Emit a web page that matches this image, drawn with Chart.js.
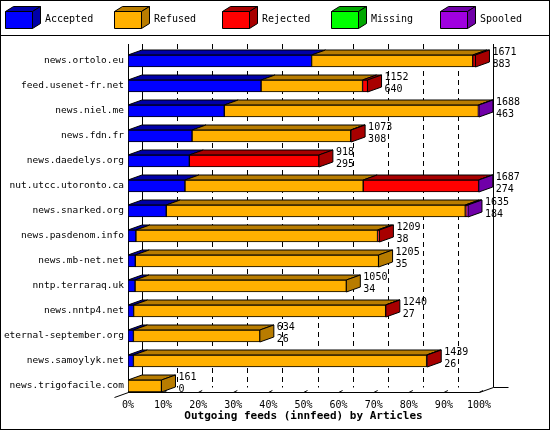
<!DOCTYPE html>
<html><head><meta charset="utf-8">
<script src="https://cdn.jsdelivr.net/npm/chart.js@4/dist/chart.umd.min.js"></script>
<style>html,body{margin:0;background:#fff}#wrap{width:550px;height:430px;position:relative}</style>
</head><body><div id="wrap"><canvas id="c" width="550" height="430"></canvas></div>
<script>
// innfeed outgoing feeds, articles per peer
const hosts = ['news.ortolo.eu','feed.usenet-fr.net','news.niel.me','news.fdn.fr','news.daedelys.org','nut.utcc.utoronto.ca','news.snarked.org','news.pasdenom.info','news.mb-net.net','nntp.terraraq.uk','news.nntp4.net','eternal-september.org','news.samoylyk.net','news.trigofacile.com'];
const accepted = [883, 640, 463, 308, 295, 274, 184, 38, 35, 34, 27, 26, 26, 0];
const refused  = [775, 488, 1222, 763, 0, 857, 1438, 1162, 1170, 1016, 1212, 608, 1410, 161];
const rejected = [13, 24, 0, 2, 623, 555, 8, 9, 0, 0, 1, 0, 3, 0];
const missing  = [0, 0, 0, 0, 0, 0, 0, 0, 0, 0, 0, 0, 0, 0];
const spooled  = [0, 0, 3, 0, 0, 1, 5, 0, 0, 0, 0, 0, 0, 0];
const totals   = [1671, 1152, 1688, 1073, 918, 1687, 1635, 1209, 1205, 1050, 1240, 634, 1439, 161];
const tickPct  = [0, 10, 20, 30, 40, 50, 60, 70, 80, 90, 100];

const FONT = 'DejaVu Sans Mono';
const DX = 14, DY = 5;
const series = [
  { label: 'Accepted', data: accepted, front: '#0000ff', dark: '#0000a8' },
  { label: 'Refused',  data: refused,  front: '#ffb000', dark: '#b87c00' },
  { label: 'Rejected', data: rejected, front: '#ff0000', dark: '#a80000' },
  { label: 'Missing',  data: missing,  front: '#00ff00', dark: '#00a800' },
  { label: 'Spooled',  data: spooled,  front: '#a000e0', dark: '#7000a8' },
];
const maxTotal = Math.max(...totals);

function poly(ctx, pts, fill) {
  ctx.beginPath();
  ctx.moveTo(pts[0][0], pts[0][1]);
  pts.slice(1).forEach((p) => ctx.lineTo(p[0], p[1]));
  ctx.closePath();
  ctx.fillStyle = fill; ctx.fill();
  ctx.strokeStyle = '#000'; ctx.lineWidth = 1; ctx.stroke();
}

const frame = {
  id: 'frame',
  beforeDraw(chart) {
    const ctx = chart.ctx, xs = chart.scales.x, a = chart.chartArea;
    const floorY = a.bottom - 6;
    ctx.save();
    ctx.strokeStyle = '#000'; ctx.lineWidth = 1;
    ctx.strokeRect(0.5, 0.5, 549, 429);
    ctx.beginPath(); ctx.moveTo(0, 35.5); ctx.lineTo(550, 35.5); ctx.stroke();
    // back grid
    tickPct.forEach((p, i) => {
      const x = Math.round(xs.getPixelForValue(maxTotal * p / 100)) + DX + 0.5;
      ctx.setLineDash(i === 0 || i === tickPct.length - 1 ? [] : [5, 4]);
      ctx.beginPath(); ctx.moveTo(x, 44); ctx.lineTo(x, floorY - DY); ctx.stroke();
    });
    ctx.setLineDash([]);
    // y axis & floor
    const l = Math.round(a.left) + 0.5, r = Math.round(xs.getPixelForValue(maxTotal)) + 0.5;
    ctx.beginPath();
    ctx.moveTo(l, 44); ctx.lineTo(l, floorY);
    ctx.moveTo(l - DX, floorY + DY); ctx.lineTo(l, floorY); ctx.lineTo(r, floorY);
    ctx.lineTo(r + DX, floorY - DY); ctx.lineTo(r + DX + 15, floorY - DY);
    ctx.stroke();
    tickPct.forEach((p) => {
      const x = xs.getPixelForValue(maxTotal * p / 100);
      ctx.beginPath(); ctx.moveTo(x, floorY); ctx.lineTo(x + 4, floorY - 2); ctx.stroke();
    });
    // legend
    ctx.font = '10px ' + FONT; ctx.textBaseline = 'middle'; ctx.fillStyle = '#000';
    const lx = [5, 114, 222, 331, 440];
    series.forEach((s, i) => {
      const x = lx[i] + 0.5, y = 11.5, w = 27, h = 17, d = 8, e = 5;
      poly(ctx, [[x, y], [x + d, y - e], [x + w + d, y - e], [x + w, y]], s.dark);
      poly(ctx, [[x + w, y], [x + w + d, y - e], [x + w + d, y + h - e], [x + w, y + h]], s.dark);
      poly(ctx, [[x, y], [x + w, y], [x + w, y + h], [x, y + h]], s.front);
      ctx.fillStyle = '#000';
      ctx.fillText(s.label, lx[i] + 40, 19);
    });
    ctx.restore();
  },
  beforeDatasetsDraw(chart) {
    const ctx = chart.ctx;
    ctx.save();
    hosts.forEach((h, j) => {
      let last = null;
      series.forEach((s, i) => {
        const el = chart.getDatasetMeta(i).data[j];
        if (!series[i].data[j]) return;
        const x0 = el.base, x1 = el.x, top = el.y - el.height / 2;
        poly(ctx, [[x0, top], [x0 + DX, top - DY], [x1 + DX, top - DY], [x1, top]], s.dark);
        last = { el, s };
      });
      if (last) {
        const x1 = last.el.x, top = last.el.y - last.el.height / 2, bot = top + last.el.height;
        poly(ctx, [[x1, top], [x1 + DX, top - DY], [x1 + DX, bot - DY], [x1, bot]], last.s.dark);
      }
    });
    ctx.restore();
  },
  afterDatasetsDraw(chart) {
    const ctx = chart.ctx, xs = chart.scales.x;
    ctx.save();
    ctx.font = '10px ' + FONT; ctx.fillStyle = '#000'; ctx.textBaseline = 'middle';
    hosts.forEach((h, j) => {
      const el = chart.getDatasetMeta(0).data[j];
      const x = xs.getPixelForValue(totals[j]) + DX + 3;
      ctx.fillText(String(totals[j]), x, el.y - 9);
      ctx.fillText(String(accepted[j]), x, el.y + 3);
    });
    ctx.restore();
  },
};

new Chart(document.getElementById('c'), {
  type: 'bar',
  data: {
    labels: hosts,
    datasets: series.map((s) => ({ label: s.label, data: s.data, backgroundColor: s.front, borderColor: '#000', borderWidth: 1, borderSkipped: false, barThickness: 12 })),
  },
  options: {
    responsive: false, animation: false, indexAxis: 'y',
    layout: { padding: { top: 48.5, right: 71, left: 0, bottom: 0 } },
    plugins: { legend: { display: false }, tooltip: { enabled: false } },
    scales: {
      x: {
        stacked: true, min: 0, max: maxTotal,
        afterBuildTicks: (sc) => { sc.ticks = tickPct.map((p) => ({ value: maxTotal * p / 100 })); },
        afterFit: (sc) => { sc.height = 31.5; },
        grid: { display: false, drawTicks: false }, border: { display: false },
        ticks: { padding: 1, maxRotation: 0, color: '#000', font: { family: FONT, size: 10 }, callback: (v) => Math.round(v / maxTotal * 100) + '%' },
        title: { display: true, text: 'Outgoing feeds (innfeed) by Articles', color: '#000', padding: { top: 0, bottom: 7 }, font: { family: FONT, size: 11, weight: 'bold' } },
      },
      y: {
        stacked: true,
        afterFit: (sc) => { sc.width = 128; },
        grid: { display: false, drawTicks: false }, border: { display: false },
        ticks: { padding: 4, color: '#000', font: { family: FONT, size: 9.5 } },
      },
    },
  },
  plugins: [frame],
});
</script></body></html>
